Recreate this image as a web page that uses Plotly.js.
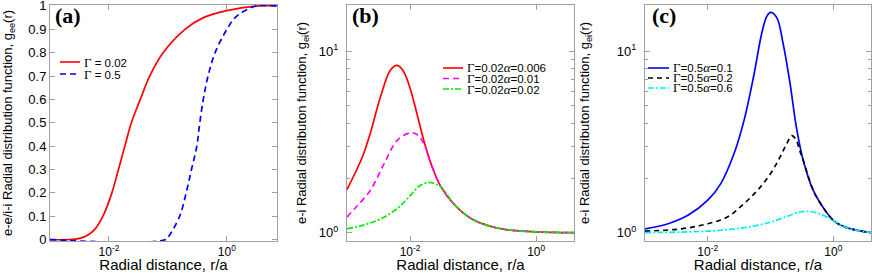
<!DOCTYPE html>
<html><head><meta charset="utf-8">
<script src="https://cdn.plot.ly/plotly-3.0.1.min.js"></script>
<style>html,body{margin:0;padding:0;background:#fff}#chart{width:872px;height:273px}</style>
</head><body><div id="chart"></div>
<script>
// ---- Panel (a): g_ee(r) ----
const rA1 = [0.001, 0.002, 0.0032, 0.0044, 0.0058, 0.0079, 0.0112, 0.0145, 0.0186, 0.024, 0.034, 0.049, 0.083, 0.195, 0.40, 1.0, 3.6, 7.0];
const gA1 = [0, 0, 0.005, 0.02, 0.045, 0.1, 0.2, 0.3, 0.4, 0.5, 0.6, 0.7, 0.8, 0.9, 0.95, 0.98, 1.0, 1.0];
const rA2 = [0.001, 0.09, 0.107, 0.158, 0.204, 0.251, 0.309, 0.347, 0.398, 0.479, 0.631, 1.0, 1.38, 2.04, 3.16, 7.0];
const gA2 = [0, 0, 0.02, 0.1, 0.2, 0.3, 0.4, 0.5, 0.6, 0.7, 0.8, 0.9, 0.95, 0.98, 1.0, 1.0];
const namesA = ['0.02', '0.5'];
const yTicksA = [0, 0.1, 0.2, 0.3, 0.4, 0.5, 0.6, 0.7, 0.8, 0.9, 1];

// ---- Panel (b): g_ei(r), Gamma = 0.02 ----
const rB1 = [0.001, 0.00141, 0.00178, 0.00234, 0.00339, 0.0049, 0.0063, 0.0079, 0.0102, 0.0132, 0.017, 0.0214, 0.0309, 0.0513, 0.0955, 0.178, 0.331, 1.0, 4.0];
const gB1 = [1.73, 2.21, 2.65, 3.53, 5.6, 7.9, 8.37, 7.75, 6.13, 4.37, 3.11, 2.41, 1.79, 1.42, 1.19, 1.09, 1.04, 1.01, 1.0];
const rB2 = [0.001, 0.00141, 0.00234, 0.0039, 0.0063, 0.0102, 0.0132, 0.017, 0.0214, 0.0309, 0.0513, 0.0955, 0.178, 0.331, 1.0, 4.0];
const gB2 = [1.22, 1.39, 1.71, 2.41, 3.24, 3.56, 3.46, 3.04, 2.41, 1.79, 1.42, 1.19, 1.09, 1.04, 1.01, 1.0];
const rB3 = [0.001, 0.00182, 0.00339, 0.0063, 0.0102, 0.0148, 0.0214, 0.0309, 0.0513, 0.0955, 0.178, 0.331, 1.0, 4.0];
const gB3 = [1.05, 1.10, 1.19, 1.36, 1.61, 1.83, 1.89, 1.79, 1.42, 1.19, 1.09, 1.04, 1.01, 1.0];
const namesB = [['0.02', '0.006'], ['0.02', '0.01'], ['0.02', '0.02']];

// ---- Panel (c): g_ei(r), Gamma = 0.5 ----
const rC1 = [0.001, 0.00234, 0.0049, 0.01, 0.0162, 0.0263, 0.038, 0.0537, 0.0724, 0.0871, 0.1, 0.126, 0.158, 0.204, 0.257, 0.331, 0.479, 0.676, 1.0, 1.58, 4.0];
const gC1 = [1.05, 1.12, 1.25, 1.51, 1.87, 2.74, 4.19, 7.27, 12.6, 15.6, 16.4, 15.3, 11.1, 6.68, 3.85, 2.51, 1.71, 1.39, 1.17, 1.07, 1.0];
const rC2 = [0.001, 0.0038, 0.01, 0.0205, 0.038, 0.0617, 0.1, 0.142, 0.182, 0.218, 0.257, 0.29, 0.331, 0.479, 0.676, 1.0, 1.58, 4.0];
const gC2 = [1.02, 1.05, 1.12, 1.22, 1.45, 1.71, 2.12, 2.62, 3.11, 3.43, 3.24, 2.85, 2.51, 1.71, 1.39, 1.17, 1.07, 1.0];
const rC3 = [0.001, 0.01, 0.0339, 0.089, 0.182, 0.295, 0.417, 0.603, 0.87, 1.0, 1.58, 4.0];
const gC3 = [1.0, 1.02, 1.06, 1.13, 1.23, 1.30, 1.31, 1.27, 1.20, 1.17, 1.07, 1.0];
const namesC = [['0.5', '0.1'], ['0.5', '0.2'], ['0.5', '0.6']];

const xTickVals = [0.01, 1];
const xTickText = ['10<sup>-2</sup>', '10<sup>0</sup>'];
const yLogTickVals = [1, 10];
const yLogTickText = ['10<sup>0</sup>', '10<sup>1</sup>'];
const yLogMinor = [2, 3, 4, 5, 6, 7, 8, 9];

// ---- styles ----
const W = 872, TOP = 5, BOT = 241, PH = BOT - TOP;
const FONT = 'Liberation Sans, Arial, Helvetica, sans-serif';
const SERIF = 'Liberation Serif, Times New Roman, serif';
const frame = '#a0a0a0';
const styA = [{color: '#ff0000', dash: 'solid'}, {color: '#0000ff', dash: '6px,4px'}];
const styB = [{color: '#ff0000', dash: 'solid'}, {color: '#ff00ff', dash: '6px,4px'}, {color: '#00ee00', dash: '6px,2px,2px,2px'}];
const styC = [{color: '#0000ff', dash: 'solid'}, {color: '#000000', dash: '5px,4px'}, {color: '#00eeee', dash: '6px,2px,2px,2px'}];

function tr(x, y, s, xa, ya) {
  return {x: x, y: y, xaxis: xa, yaxis: ya, type: 'scatter', mode: 'lines',
          line: {color: s.color, dash: s.dash, width: 1.7, shape: 'spline', smoothing: 1.0},
          showlegend: false, hoverinfo: 'skip'};
}
const data = [
  tr(rA1, gA1, styA[0], 'x', 'y'), tr(rA2, gA2, styA[1], 'x', 'y'),
  tr(rB1, gB1, styB[0], 'x2', 'y2'), tr(rB2, gB2, styB[1], 'x2', 'y2'), tr(rB3, gB3, styB[2], 'x2', 'y2'),
  tr(rC1, gC1, styC[0], 'x3', 'y3'), tr(rC2, gC2, styC[1], 'x3', 'y3'), tr(rC3, gC3, styC[2], 'x3', 'y3')
];

function xax(l, r, rng, anchor) {
  return {domain: [l / W, r / W], type: 'log', range: rng, anchor: anchor, layer: 'below traces',
          tickvals: xTickVals, ticktext: xTickText, ticks: 'inside', ticklen: 5, tickcolor: frame,
          showline: true, linecolor: frame, linewidth: 1, mirror: 'ticks', showgrid: false, zeroline: false,
          tickfont: {family: FONT, size: 12, color: '#000'},
          title: {text: 'Radial distance, r/a', font: {family: FONT, size: 15, color: '#000'}, standoff: 2}};
}
function ylogax(anchor, title, standoff) {
  return {domain: [0, 1], type: 'log', range: [-0.046, 1.256], anchor: anchor, layer: 'below traces',
          tickvals: yLogTickVals, ticktext: yLogTickText, ticks: 'inside', ticklen: 5, tickcolor: frame,
          minor: {tickvals: yLogMinor, ticks: 'inside', ticklen: 3, tickcolor: frame, showgrid: false},
          showline: true, linecolor: frame, linewidth: 1, mirror: 'ticks', showgrid: false, zeroline: false,
          ticklabelstandoff: 5,
          tickfont: {family: FONT, size: 13, color: '#000'},
          title: {text: title, font: {family: FONT, size: 13, color: '#000'}, standoff: standoff}};
}

const layout = {
  width: 872, height: 273, margin: {l: 0, r: 0, t: TOP, b: 273 - BOT}, autosize: false,
  paper_bgcolor: '#fff', plot_bgcolor: '#fff', showlegend: false,
  xaxis: xax(50, 277, [-3, 0.85], 'y'),
  yaxis: {domain: [0, 1], range: [-0.006, 1.004], anchor: 'x', layer: 'below traces', tickmode: 'array', tickvals: yTicksA,
          ticklabeloverflow: 'allow', ticks: 'inside', ticklen: 5, tickcolor: frame,
          showline: true, linecolor: frame, linewidth: 1, mirror: 'ticks', showgrid: false, zeroline: false,
          tickfont: {family: FONT, size: 13, color: '#000'},
          title: {text: 'e-e/i-i Radial distribution function, g<sub>ee</sub>(r)', font: {family: FONT, size: 13, color: '#000'}, standoff: 12}},
  xaxis2: xax(347, 574, [-3, 0.6], 'y2'),
  yaxis2: ylogax('x2', 'e-i Radial distributon function, g<sub>ei</sub>(r)', 9),
  xaxis3: xax(645, 871, [-3, 0.6], 'y3'),
  yaxis3: ylogax('x3', 'e-i Radial distributon function, g<sub>ei</sub>(r)', 24),
  shapes: [], annotations: []
};

const py = p => (BOT - p) / PH;
function panelLabel(txt, px) {
  layout.annotations.push({text: '<b>' + txt + '</b>', xref: 'paper', yref: 'paper', x: px / W, y: py(16),
    xanchor: 'left', yanchor: 'middle', showarrow: false, font: {family: SERIF, size: 22, color: '#000'}});
}
panelLabel('(a)', 53); panelLabel('(b)', 350); panelLabel('(c)', 650);

function legendItem(x0, x1, ypix, s, label) {
  layout.shapes.push({type: 'line', xref: 'paper', yref: 'paper', x0: x0 / W, x1: x1 / W, y0: py(ypix), y1: py(ypix),
    line: {color: s.color, dash: s.dash, width: 1.6}});
  layout.annotations.push({text: label, xref: 'paper', yref: 'paper', x: (x1 + 3) / W, y: py(ypix),
    xanchor: 'left', yanchor: 'middle', showarrow: false, borderpad: 0,
    font: {family: FONT, size: 11.5, color: '#000'}});
}
const G = '<span style="font-family:' + SERIF + ';font-size:13px">Γ</span>';
const A = '<span style="font-family:' + SERIF + ';font-style:italic;font-size:13px">α</span>';
namesA.forEach((n, i) => legendItem(60, 80, [62, 74][i], styA[i], G + ' = ' + n));
namesB.forEach((n, i) => legendItem(443, 463, [68, 78.5, 89][i], styB[i], G + '=' + n[0] + A + '=' + n[1]));
namesC.forEach((n, i) => legendItem(648, 669, [68, 78, 88][i], styC[i], G + '=' + n[0] + A + '=' + n[1]));

Plotly.newPlot('chart', data, layout, {staticPlot: true, displayModeBar: false});
</script></body></html>
